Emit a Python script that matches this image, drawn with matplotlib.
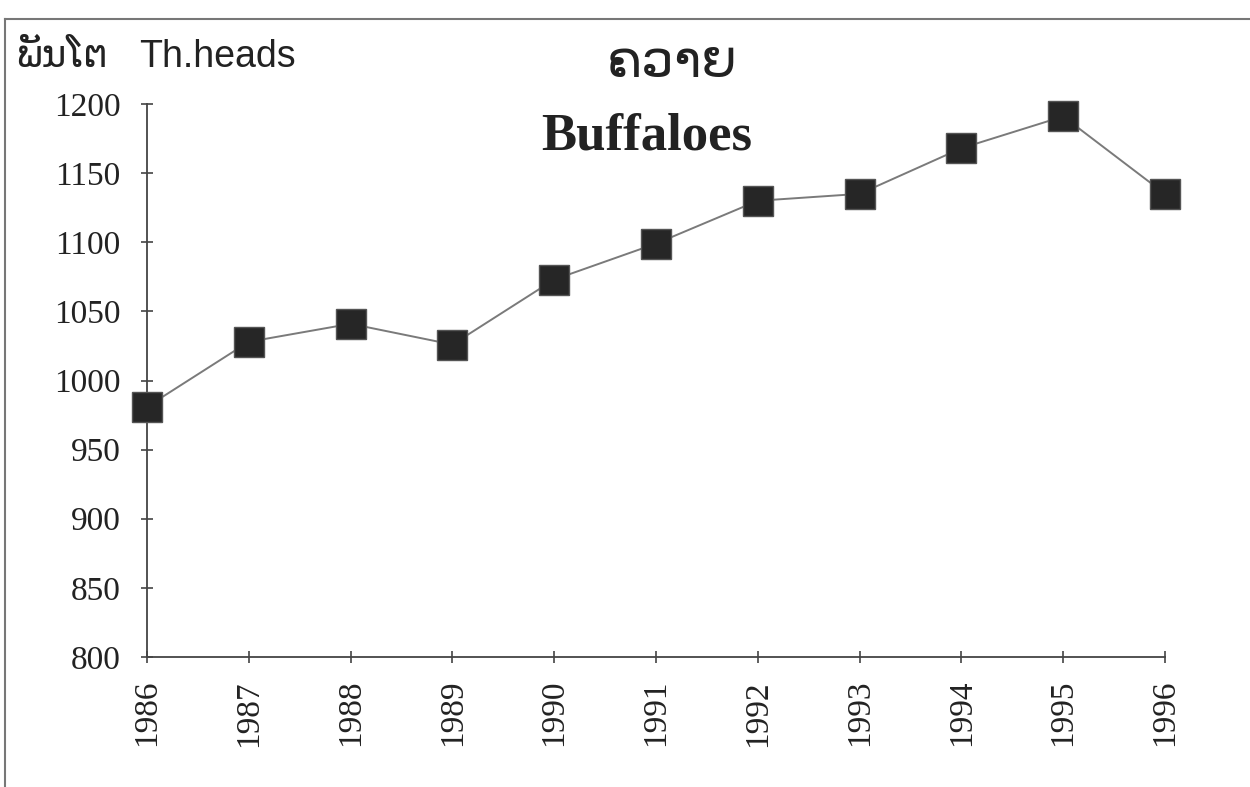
import matplotlib
matplotlib.use("Agg")
import matplotlib.pyplot as plt
from matplotlib.lines import Line2D

years = [1986, 1987, 1988, 1989, 1990, 1991, 1992, 1993, 1994, 1995, 1996]
buffaloes = [981, 1028, 1041, 1026, 1073, 1099, 1130, 1135, 1168, 1191, 1135]
yticks = [800, 850, 900, 950, 1000, 1050, 1100, 1150, 1200]

fig = plt.figure(figsize=(12.5, 7.87), dpi=100)
ax = fig.add_axes([147/1250, 1-657/787, (1165-147)/1250, (657-104)/787])

ax.plot(years, buffaloes, color="#7a7a7a", lw=1.4, zorder=2)
ax.plot(years, buffaloes, ls="none", marker="s", ms=21, mfc="#262626",
        mec="#555555", mew=1.0, zorder=3, clip_on=False)

ax.set_xlim(1986, 1996)
ax.set_ylim(800, 1200)
ax.set_xticks(years)
ax.set_xticklabels([str(y) for y in years], rotation=90, va="top",
                   family="Liberation Serif", fontsize=24, color="#222222")
ax.set_yticks(yticks)
ax.set_yticklabels([str(v) for v in yticks], family="Liberation Serif",
                   fontsize=24, color="#222222")
for s in ["top", "right"]:
    ax.spines[s].set_visible(False)
for s in ["left", "bottom"]:
    ax.spines[s].set_color("#444444")
    ax.spines[s].set_linewidth(1.3)
ax.tick_params(axis="both", direction="inout", length=9, width=1.2,
               color="#444444")
ax.tick_params(axis="y", pad=14.5)
ax.tick_params(axis="x", pad=12)

# texts
fig.text(16/1250, 1-57/787, "ພັນໂຕ", family=["DejaVu Sans"], fontsize=27,
         va="center", ha="left", color="#222222")
fig.text(139/1250, 1-57/787, "Th.heads", family="Liberation Sans",
         fontsize=27, va="center", ha="left", color="#222222")
fig.text(672/1250, 1-63/787, "ຄວາຍ", family=["DejaVu Sans"], fontsize=37,
         va="center", ha="center", color="#222222")
fig.text(647/1250, 1-137/787, "Buffaloes", family="Liberation Serif",
         fontsize=38, fontweight="bold", va="center", ha="center",
         color="#222222")

# frame lines (top and left)
fig.add_artist(Line2D([5/1250, 1.0], [1-19/787, 1-19/787], color="#777777",
                      lw=1.5, transform=fig.transFigure))
fig.add_artist(Line2D([5/1250, 5/1250], [0.0, 1-19/787], color="#777777",
                      lw=1.5, transform=fig.transFigure))

fig.savefig("out.png", dpi=100)
